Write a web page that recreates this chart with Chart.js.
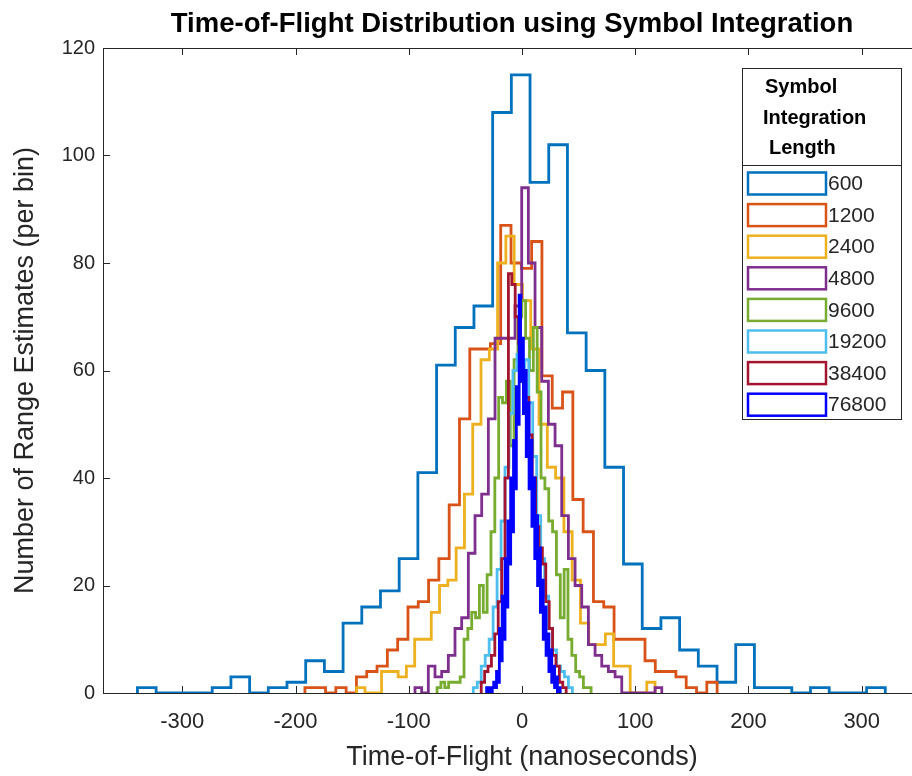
<!DOCTYPE html>
<html>
<head>
<meta charset="utf-8">
<script src="https://cdn.jsdelivr.net/npm/chart.js@4.4.1/dist/chart.umd.min.js"></script>
<style>
  html, body { margin: 0; padding: 0; background: #fff; overflow: hidden; }
  #wrap { width: 950px; height: 776px; }
</style>
</head>
<body>
<div id="wrap"><canvas id="tof-chart" width="950" height="776"></canvas></div>
<script>
// symbol integration lengths (one histogram each)
const seriesLabels = ['600', '1200', '2400', '4800', '9600', '19200', '38400', '76800'];
const seriesColors = ['#0072BD', '#D95319', '#EDB120', '#7E2F8E', '#77AC30', '#4DBEEE', '#A2142F', '#0000FF'];

// first bin edge and bin width of every histogram (nanoseconds)
const binStarts = [-339.6, -191.7, -146, -94.5, -75, -43, -36, -31.25];
const binWidths = [16.51, 9.1, 7.32, 5.89, 3.4, 3.5, 3, 1.25];

// range estimates per bin
const counts600 = [1, 0, 0, 0, 1, 3, 0, 1, 2, 6, 4, 13, 16, 19, 25, 41, 61, 68, 72, 108,
  115, 95, 102, 67, 60, 42, 24, 12, 14, 8, 5, 2, 9, 1, 1, 0, 1, 0, 0, 1];
const counts1200 = [1, 1, 0, 1, 0, 3, 4, 5, 8, 10, 16, 17, 21, 25, 35, 51, 64, 64, 65, 87,
  80, 79, 84, 59, 53, 56, 36, 30, 17, 16, 10, 10, 10, 6, 4, 4, 3, 1, 0, 2];
const counts2400 = [1, 0, 0, 4, 4, 3, 5, 10, 10, 15, 20, 21, 27, 37, 50, 62, 64, 80, 85, 76,
  73, 64, 50, 42, 40, 30, 21, 13, 9, 9, 11, 5, 5, 0, 0, 2];
const counts4800 = [1, 0, 5, 3, 4, 7, 12, 14, 26, 33, 37, 51, 66, 66, 66, 72, 94, 80, 68, 58,
  50, 46, 33, 25, 20, 16, 9, 7, 5, 4, 3, 0, 0, 0, 0, 0, 1];
const counts9600 = [1, 2, 1, 2, 2, 2, 3, 10, 12, 15, 14, 20, 15, 22, 30, 40, 55, 54, 58, 46,
  62, 70, 73, 66, 60, 68, 56, 40, 38, 32, 30, 22, 14, 23, 10, 7, 4, 3, 1, 1];
const counts19200 = [1, 2, 5, 7, 10, 16, 23, 32, 42, 52, 60, 63, 58, 62, 54, 44, 33, 25, 18, 12,
  8, 5, 4, 3, 1];
const counts38400 = [2, 4, 5, 7, 11, 17, 25, 40, 78, 76, 70, 65, 60, 55, 48, 40, 31, 27, 24, 17,
  12, 7, 5, 2, 1];
const counts76800 = [1, 0, 1, 0, 1, 2, 1, 4, 2, 12, 6, 18, 10, 25, 16, 32, 24, 40, 30, 47,
  38, 57, 50, 74, 58, 66, 52, 60, 44, 54, 38, 47, 31, 40, 25, 33, 20, 27, 15, 21,
  10, 16, 7, 11, 4, 8, 2, 5, 1, 3, 0, 1];

const xTicks = [-300, -200, -100, 0, 100, 200, 300];
const yTicks = [0, 20, 40, 60, 80, 100, 120];

const chartTitle = 'Time-of-Flight Distribution using Symbol Integration';
const allCounts = [counts600, counts1200, counts2400, counts4800, counts9600, counts19200, counts38400, counts76800];
const FONT = '"Liberation Sans", Arial, Helvetica, sans-serif';
const AXIS_COLOR = '#262626';

// outline of a histogram (like matlab DisplayStyle 'stairs')
function stairPoints(start, width, counts) {
  var pts = [{ x: start, y: 0 }];
  counts.forEach(function (c, i) {
    pts.push({ x: start + i * width, y: c });
  });
  var end = start + counts.length * width;
  pts.push({ x: end, y: counts[counts.length - 1] });
  pts.push({ x: end, y: 0 });
  return pts;
}

const datasets = allCounts.map(function (counts, i) {
  return {
    label: seriesLabels[i],
    data: stairPoints(binStarts[i], binWidths[i], counts),
    borderColor: seriesColors[i],
    borderWidth: 2.8,
    borderJoinStyle: 'miter',
    pointRadius: 0,
    fill: false,
    stepped: true,
    order: allCounts.length - i
  };
});

// title centred the way matlab placed it
const topTitle = {
  id: 'topTitle',
  afterDraw(chart) {
    const ctx = chart.ctx;
    ctx.save();
    ctx.fillStyle = '#000';
    ctx.font = 'bold 27.5px ' + FONT;
    ctx.textAlign = 'center';
    ctx.textBaseline = 'middle';
    ctx.fillText(chartTitle, 512, 24);
    ctx.restore();
  }
};

// inward tick marks + top edge of the box
const boxTicks = {
  id: 'boxTicks',
  beforeDatasetsDraw(chart) {
    const { ctx, chartArea: a, scales: { x, y } } = chart;
    ctx.save();
    ctx.strokeStyle = AXIS_COLOR;
    ctx.lineWidth = 1;
    ctx.beginPath();
    ctx.moveTo(a.left, a.top + 0.5);
    ctx.lineTo(a.right, a.top + 0.5);
    x.ticks.forEach(function (t) {
      var px = Math.round(x.getPixelForValue(t.value)) + 0.5;
      ctx.moveTo(px, a.bottom);
      ctx.lineTo(px, a.bottom - 7);
      ctx.moveTo(px, a.top);
      ctx.lineTo(px, a.top + 7);
    });
    y.ticks.forEach(function (t) {
      var py = Math.round(y.getPixelForValue(t.value)) + 0.5;
      ctx.moveTo(a.left, py);
      ctx.lineTo(a.left + 7, py);
    });
    ctx.stroke();
    ctx.restore();
  }
};

// boxed legend with a title, drawn inside the axes
const boxLegend = {
  id: 'boxLegend',
  afterDraw(chart) {
    const ctx = chart.ctx;
    const left = 742, top = 68, right = 901, sep = 165, bottom = 419;
    ctx.save();
    ctx.fillStyle = '#fff';
    ctx.fillRect(left, top, right - left, bottom - top);
    ctx.strokeStyle = AXIS_COLOR;
    ctx.lineWidth = 1;
    ctx.strokeRect(left + 0.5, top + 0.5, right - left, bottom - top);
    ctx.beginPath();
    ctx.moveTo(left, sep + 0.5);
    ctx.lineTo(right, sep + 0.5);
    ctx.stroke();

    ctx.fillStyle = '#000';
    ctx.font = 'bold 20px ' + FONT;
    ctx.textBaseline = 'middle';
    ctx.textAlign = 'left';
    ctx.fillText('Symbol', 765, 87);
    ctx.fillText('Integration', 763, 118);
    ctx.fillText('Length', 769, 148);

    ctx.font = '21px ' + FONT;
    chart.data.datasets.forEach(function (ds, i) {
      var cy = 183.5 + i * 31.6;
      ctx.strokeStyle = ds.borderColor;
      ctx.lineWidth = 2.5;
      ctx.strokeRect(748, cy - 11, 78, 22);
      ctx.fillStyle = AXIS_COLOR;
      ctx.fillText(ds.label, 828, cy + 1);
    });
    ctx.restore();
  }
};

new Chart(document.getElementById('tof-chart'), {
  type: 'line',
  data: { datasets: datasets },
  options: {
    responsive: false,
    animation: false,
    layout: { padding: { left: 0, right: 9, top: 48, bottom: 0 } },
    plugins: {
      legend: { display: false },
      tooltip: { enabled: false },
      title: { display: false }
    },
    scales: {
      x: {
        type: 'linear',
        min: -370,
        max: 370,
        afterBuildTicks: function (scale) {
          scale.ticks = xTicks.map(function (v) { return { value: v }; });
        },
        afterFit: function (scale) { scale.height = 83; },
        grid: { drawOnChartArea: false, drawTicks: false },
        border: { display: true, color: AXIS_COLOR, width: 1 },
        ticks: { color: AXIS_COLOR, font: { family: FONT, size: 22 }, padding: 16, maxRotation: 0 },
        title: {
          display: true,
          text: 'Time-of-Flight (nanoseconds)',
          color: AXIS_COLOR,
          font: { family: FONT, size: 27 },
          padding: { top: 0, bottom: 2 }
        }
      },
      y: {
        min: 0,
        max: 120,
        afterBuildTicks: function (scale) {
          scale.ticks = yTicks.map(function (v) { return { value: v }; });
        },
        afterFit: function (scale) { scale.width = 103; },
        grid: { drawOnChartArea: false, drawTicks: false },
        border: { display: true, color: AXIS_COLOR, width: 1 },
        ticks: { color: AXIS_COLOR, font: { family: FONT, size: 20 }, padding: 8 },
        title: {
          display: true,
          text: 'Number of Range Estimates (per bin)',
          color: AXIS_COLOR,
          font: { family: FONT, size: 27 },
          padding: { top: 9, bottom: 0 }
        }
      }
    }
  },
  plugins: [boxTicks, boxLegend, topTitle]
});
</script>
</body>
</html>
